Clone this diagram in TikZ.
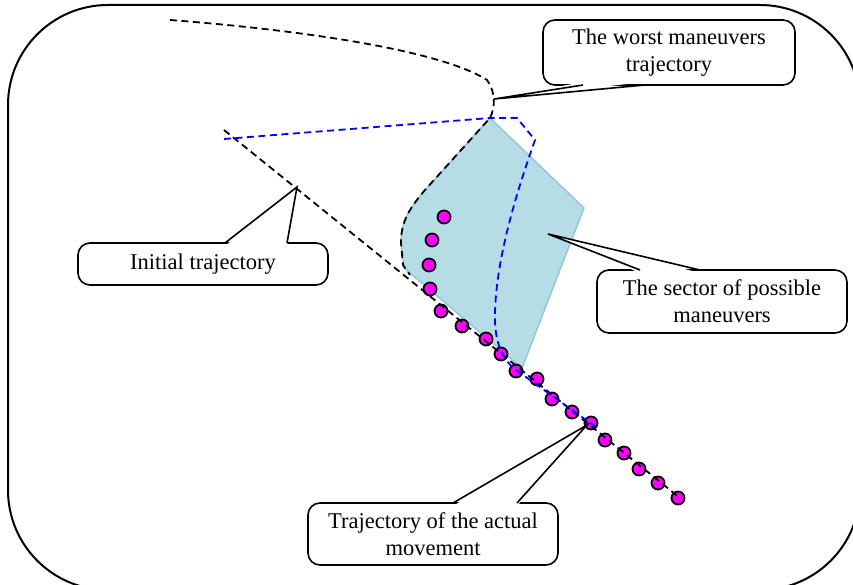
\documentclass[tikz,border=0pt]{standalone}
\usepackage{fontspec}
\setmainfont{Liberation Serif}

\definecolor{sectorblue}{RGB}{182,220,229}
\definecolor{sectoredge}{RGB}{140,196,214}
\definecolor{dotmagenta}{RGB}{255,0,255}

\begin{document}
\begin{tikzpicture}
  [x=1pt, y=-1pt,
   trajline/.style={dash pattern=on 7pt off 4.5pt, line width=1.8pt},
   pt/.style={circle, draw, fill=dotmagenta, line width=1.8pt, minimum size=13pt, inner sep=0pt},
   callbox/.style={draw, fill=white, rounded corners=12pt, line width=1.6pt, align=center,
                   inner sep=0pt, font=\fontsize{22.5}{27}\selectfont},
   ptr/.style={line width=1.6pt}]
  \useasboundingbox (0,0) rectangle (853,585);
  \draw[line width=2pt, rounded corners=100pt] (8,5) rectangle (860,590);

  % sector of possible maneuvers
  \filldraw[fill=sectorblue, draw=sectoredge, line width=1.3pt]
    (490,118) -- (584,208) -- (522,368) -- (404,268) -- (401,243)
    .. controls (401,225) and (406,212) .. (425,190) -- cycle;

  \foreach \px/\py [count=\i] in {444/217,432/240,429/265,430/289,441/311,462/326,
      486/339,501/354,516/371,537/379,552/399,572/412,591/423,605/440,624/453,
      639/469,658/483,678/498}
    \node[pt] (p\i) at (\px,\py) {};

  \coordinate (it0) at (224,130);
  \coordinate (it1) at (680,498);
  \draw[trajline] (it0) -- (it1);
  \draw[trajline]
    (170,20) .. controls (300,30) and (440,50) .. (487,80)
    .. controls (496,92) and (495,108) .. (490,118) -- (425,190)
    .. controls (406,212) and (401,225) .. (401,243) -- (403,265) -- (410,275);
  \draw[trajline, blue]
    (224,139) -- (490,118) -- (517,118) -- (535,140)
    .. controls (512,205) and (494,270) .. (495,322)
    .. controls (496,345) and (503,360) .. (516,370) -- (600,430);

  % callouts
  \node[callbox, minimum width=252pt, minimum height=65pt] (worst) at (669,52.5)
    {The worst maneuvers\\trajectory};
  \node[callbox, minimum width=250pt, minimum height=42pt] (init) at (203,264)
    {Initial trajectory};
  \node[callbox, minimum width=250pt, minimum height=63pt] (sector) at (722,301.5)
    {The sector of possible\\maneuvers};
  \node[callbox, minimum width=250pt, minimum height=62pt] (actual) at (433,534)
    {Trajectory of the actual\\movement};

  \coordinate (wtip) at (494,99);
  \coordinate (wl) at (583,85);
  \coordinate (wr) at (645,85);
  \coordinate (itip) at (297,187);
  \coordinate (il) at (225,243);
  \coordinate (ir) at (287,243);
  \coordinate (stip) at (548,234);
  \coordinate (sl) at (640,270);
  \coordinate (sr) at (700,270);
  \coordinate (atip) at (587,425);
  \coordinate (al) at (453,503);
  \coordinate (ar) at (517,503);

  \fill[white] ([yshift=3pt]wl) -- (wtip) -- ([yshift=3pt]wr) -- cycle;
  \foreach \l/\t/\r in {il/itip/ir,sl/stip/sr,al/atip/ar}
    \fill[white] ([yshift=-3pt]\l) -- (\t) -- ([yshift=-3pt]\r) -- cycle;
  \foreach \l/\t/\r in {wl/wtip/wr,il/itip/ir,sl/stip/sr,al/atip/ar}
    \draw[ptr] (\l) -- (\t) -- (\r);
\end{tikzpicture}
\end{document}
